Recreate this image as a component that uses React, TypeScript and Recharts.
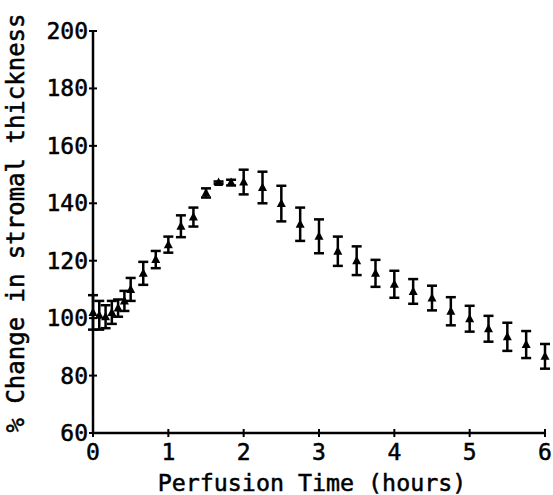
import { ScatterChart, Scatter, XAxis, YAxis, ErrorBar, Label } from 'recharts'

// perfusion time in hours
const hours = [
  0, 0.083, 0.167, 0.25, 0.333, 0.417, 0.5, 0.667, 0.833, 1, 1.167, 1.333,
  1.5, 1.667, 1.833, 2, 2.25, 2.5, 2.75, 3, 3.25, 3.5, 3.75, 4, 4.25, 4.5,
  4.75, 5, 5.25, 5.5, 5.75, 6,
]
// % change in stromal thickness
const thickness = [
  102, 101, 100.5, 102, 103.5, 106, 110, 115.6, 120.4, 125.6, 132, 135.2,
  143.6, 147.2, 147.2, 147.4, 145.5, 139.9, 132.7, 128.5, 123.3, 120, 115.6,
  111.8, 109.3, 107, 102.4, 99.8, 96.3, 93.5, 90.8, 86.7,
]
// error (+/-)
const sem = [
  6, 5, 4, 4, 3, 3.5, 4, 4, 3, 2.8, 3.8, 3.3, 1.6, 0.4, 1, 4.3, 5.5, 6.2, 5.8,
  5.9, 5.1, 5, 4.7, 4.7, 4.3, 4.3, 4.9, 4.5, 4.5, 4.9, 4.7, 4.3,
]

const xTicks = [0, 1, 2, 3, 4, 5, 6]
const yTicks = [60, 80, 100, 120, 140, 160, 180, 200]

const data = hours.map((h, i) => ({ x: h, y: thickness[i], err: sem[i] }))

const FONT = '"DejaVu Sans Mono", monospace'
// plotter-style lettering is a bit heavier than the plain font
const textStyle = { fontFamily: FONT, fill: '#000', stroke: '#000', strokeWidth: 0.5 }

const Triangle = (props: any) => {
  const { cx, cy } = props
  if (cx == null || cy == null) return null
  return (
    <polygon
      points={`${cx},${cy - 5} ${cx - 4.5},${cy + 3.5} ${cx + 4.5},${cy + 3.5}`}
      fill="#000"
    />
  )
}

const YTick = (props: any) => {
  const { x, y, payload } = props
  return (
    <g>
      <line x1={x - 4} x2={x + 4} y1={y} y2={y} stroke="#000" strokeWidth={2} />
      <text x={x - 5} y={y + 8} textAnchor="end" fontSize={23} {...textStyle}>
        {payload.value}
      </text>
    </g>
  )
}

const XTick = (props: any) => {
  const { x, y, payload } = props
  return (
    <g>
      <line x1={x} x2={x} y1={y - 4} y2={y + 4} stroke="#000" strokeWidth={2} />
      <text x={x} y={y + 27} textAnchor="middle" fontSize={23} {...textStyle}>
        {payload.value}
      </text>
    </g>
  )
}

export default function App() {
  return (
    <div style={{ position: 'absolute', left: 0, top: 0, background: '#fff' }}>
      <ScatterChart width={553} height={495} margin={{ top: 31, right: 8, bottom: 0, left: 0 }}>
        <XAxis
          type="number"
          dataKey="x"
          domain={[0, 6]}
          ticks={xTicks}
          height={62}
          tickSize={0}
          tickMargin={0}
          tick={<XTick />}
          axisLine={{ stroke: '#000', strokeWidth: 2.5 }}
        >
          <Label
            content={() => (
              <text x={312} y={491} textAnchor="middle" fontSize={23.3} {...textStyle}>
                Perfusion Time (hours)
              </text>
            )}
          />
        </XAxis>
        <YAxis
          type="number"
          dataKey="y"
          domain={[60, 200]}
          ticks={yTicks}
          width={93}
          tickSize={0}
          tickMargin={0}
          tick={<YTick />}
          axisLine={{ stroke: '#000', strokeWidth: 2.5 }}
        >
          <Label
            content={() => (
              <text
                x={24}
                y={223}
                transform="rotate(-90 24 223)"
                textAnchor="middle"
                fontSize={24}
                {...textStyle}
              >
                % Change in stromal thickness
              </text>
            )}
          />
        </YAxis>
        <Scatter data={data} dataKey="y" fill="#000" shape={Triangle} isAnimationActive={false}>
          <ErrorBar
            dataKey="err"
            direction="y"
            width={5}
            stroke="#000"
            strokeWidth={2.5}
            isAnimationActive={false}
          />
        </Scatter>
      </ScatterChart>
    </div>
  )
}
